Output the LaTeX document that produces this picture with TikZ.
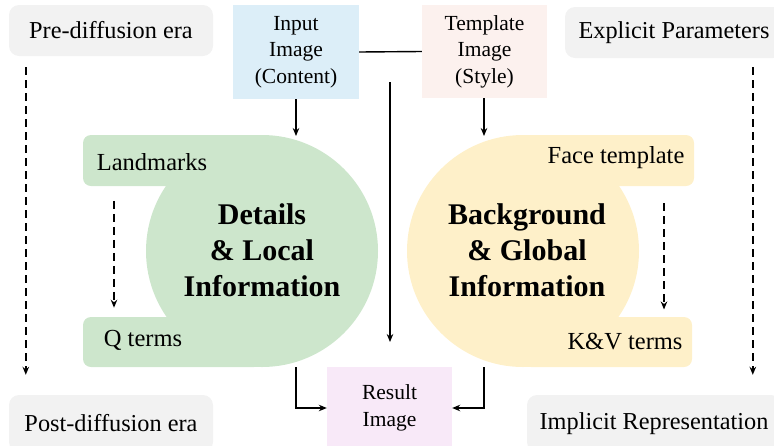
\documentclass[tikz,border=0pt]{standalone}
\usepackage{fontspec}
\setmainfont{Liberation Serif}
\usetikzlibrary{arrows.meta,calc}
\definecolor{eragray}{HTML}{F2F2F2}
\definecolor{inblue}{HTML}{DCEEF8}
\definecolor{tplpink}{HTML}{FCF1EE}
\definecolor{respink}{HTML}{F8E9F8}
\definecolor{greenfill}{HTML}{CDE6CC}
\definecolor{yellowfill}{HTML}{FEF0C9}
\begin{document}
\begin{tikzpicture}[x=1pt,y=-1pt,
  imgbox/.style={inner sep=0pt, align=center, font=\fontsize{21.5}{26.5}\selectfont},
  erabox/.style={fill=eragray, rounded corners=10pt, inner sep=0pt, font=\fontsize{24.3}{28}\selectfont},
  lbl/.style={inner sep=0pt, font=\fontsize{24.5}{28}\selectfont},
  bigtxt/.style={inner sep=0pt, align=center, font=\fontsize{30}{36}\selectfont\bfseries},
  arr/.style={line width=1.3pt, -{Stealth[length=8pt,width=6.5pt]}},
  dasharr/.style={line width=1.4pt, dash pattern=on 8pt off 5pt, -{Stealth[length=8pt,width=6.5pt]}},
  plainline/.style={line width=1.4pt}]
\useasboundingbox (0,0) rectangle (774,445);
\clip (0,0) rectangle (774,445);

% era boxes
\node[erabox, minimum width=204pt, minimum height=51pt] (pre) at (111,30.5) {Pre-diffusion era};
\node[erabox, minimum width=204pt, minimum height=57pt] (post) at (111,423.5) {Post-diffusion era};
\node[erabox, minimum width=218pt, minimum height=51pt] (expl) at (674,32.5) {Explicit Parameters};
\node[erabox, minimum width=254pt, minimum height=57pt] (impl) at (654,423.5) {Implicit Representation};

% image boxes
\node[imgbox, fill=inblue, minimum width=126pt, minimum height=94pt] (input) at (296,52) {Input\\Image\\(Content)};
\node[imgbox, fill=tplpink, minimum width=125pt, minimum height=93pt] (template) at (484.5,51.5) {Template\\Image\\(Style)};
\node[imgbox, fill=respink, minimum width=125pt, minimum height=82pt] (result) at (389.5,408) {Result\\Image};

% green shape
\fill[greenfill] (262,251) circle[radius=116];
\fill[greenfill, rounded corners=8pt] (83,135) rectangle (262,186);
\fill[greenfill, rounded corners=8pt] (83,317) rectangle (262,367);
\fill[greenfill] (200,135) rectangle (262,186);
\fill[greenfill] (200,317) rectangle (262,367);
% yellow shape
\fill[yellowfill] (523,251) circle[radius=116];
\fill[yellowfill, rounded corners=8pt] (523,135) rectangle (694,186);
\fill[yellowfill, rounded corners=8pt] (523,317) rectangle (692,367);
\fill[yellowfill] (523,135) rectangle (600,186);
\fill[yellowfill] (523,317) rectangle (600,367);

% shape texts
\node[lbl] (landmarks) at (152,162) {Landmarks};
\node[lbl] (qterms) at (143,340) {Q terms};
\node[lbl] (face) at (616,158) {Face template};
\node[lbl] (kv) at (625,342) {K\&V terms};
\node[bigtxt] (details) at (262,250) {Details\\\& Local\\Information};
\node[bigtxt] (backg) at (527,250) {Background\\\& Global\\Information};

% coordinates
\coordinate (gtop) at (296,136);
\coordinate (ytop) at (484,136);
\coordinate (gbot) at (296,367);
\coordinate (ybot) at (484,367);
\coordinate (vstart) at (390,82);
\coordinate (vend) at (390,342);

% connectors
\draw[plainline] (input.east) -- (template.west);
\draw[arr] (vstart) -- (vend);
\draw[arr] (input.south) -- (gtop);
\draw[arr] (template.south -| ytop) -- (ytop);
\draw[arr] (gbot) |- (result.west);
\draw[arr] (ybot) |- (result.east);

% dashed arrows
\draw[dasharr] ($(pre.south west)+(17,11)$) -- ($(post.north west)+(17,-20)$);
\draw[dasharr] ($(expl.south west)+(188,9)$) -- ($(impl.north west)+(226,-20)$);
\draw[dasharr] ($(landmarks.south -| 114,0)+(0,30)$) -- ($(qterms.north -| 114,0)+(0,-22)$);
\draw[dasharr] ($(face.south -| 664,0)+(0,34)$) -- ($(kv.north -| 664,0)+(0,-24)$);
\end{tikzpicture}
\end{document}
